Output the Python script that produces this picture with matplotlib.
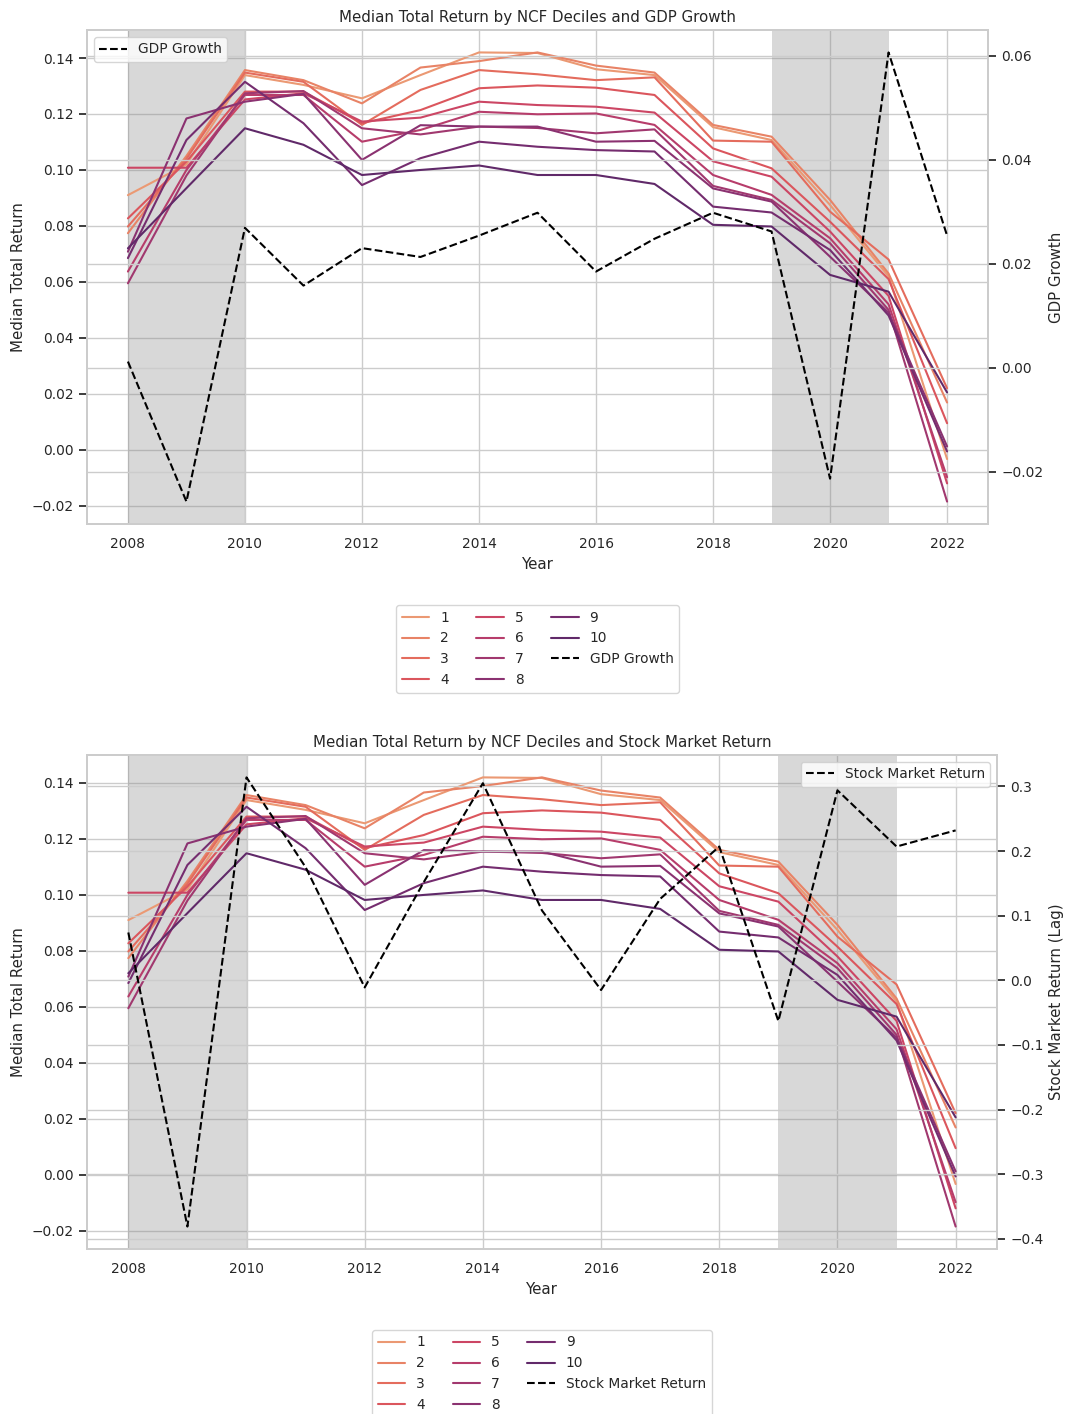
import matplotlib
matplotlib.use("Agg")
import matplotlib.pyplot as plt
import seaborn as sns
import numpy as np

years = list(range(2008, 2023))
deciles = [str(i) for i in range(1, 11)]

# median total return per NCF decile, 2008..2022
d1 = [0.091, 0.102, 0.1339, 0.1304, 0.1256, 0.1339, 0.1420, 0.1418, 0.1360, 0.1339, 0.1153, 0.1107, 0.0875, 0.062, -0.0033]
d2 = [0.0774, 0.105, 0.1357, 0.1321, 0.1238, 0.1366, 0.1389, 0.1420, 0.1373, 0.1348, 0.1161, 0.1119, 0.0893, 0.063, 0.0169]
d3 = [0.0798, 0.104, 0.1348, 0.1315, 0.1161, 0.1286, 0.1357, 0.1342, 0.1321, 0.1331, 0.1105, 0.1101, 0.0851, 0.068, 0.0220]
d4 = [0.0827, 0.103, 0.1280, 0.1280, 0.1167, 0.1214, 0.1292, 0.1302, 0.1294, 0.1268, 0.1077, 0.1006, 0.0815, 0.061, 0.0095]
d5 = [0.1008, 0.1008, 0.1252, 0.1274, 0.1173, 0.1187, 0.1244, 0.1232, 0.1226, 0.1205, 0.1031, 0.0976, 0.0780, 0.055, -0.0120]
d6 = [0.0637, 0.100, 0.1268, 0.1268, 0.1101, 0.1143, 0.1208, 0.1199, 0.1202, 0.1161, 0.0982, 0.0911, 0.0756, 0.052, -0.0098]
d7 = [0.0595, 0.098, 0.1274, 0.1282, 0.1149, 0.1127, 0.1155, 0.1150, 0.1131, 0.1145, 0.0943, 0.0893, 0.0738, 0.050, -0.0185]
d8 = [0.0708, 0.1184, 0.1244, 0.1272, 0.1036, 0.1160, 0.1155, 0.1155, 0.1101, 0.1104, 0.0934, 0.0887, 0.0690, 0.049, 0.0012]
d9 = [0.0685, 0.1107, 0.1315, 0.1167, 0.0946, 0.1042, 0.1101, 0.1083, 0.1071, 0.1066, 0.0869, 0.0848, 0.0714, 0.048, -0.0006]
d10 = [0.0720, 0.0935, 0.1149, 0.1090, 0.0982, 0.1000, 0.1016, 0.0982, 0.0982, 0.0950, 0.0804, 0.0798, 0.0625, 0.0565, 0.0205]
returns = [d1, d2, d3, d4, d5, d6, d7, d8, d9, d10]

gdp_growth = [0.0012, -0.0257, 0.0269, 0.0158, 0.0230, 0.0213, 0.0254, 0.0298, 0.0185, 0.0248, 0.0298, 0.0262, -0.0213, 0.0606, 0.0254]
stock_return = [0.074, -0.381, 0.314, 0.175, -0.011, 0.152, 0.305, 0.108, -0.015, 0.126, 0.207, -0.063, 0.294, 0.207, 0.232]

recessions = [(2008, 2010), (2019, 2021)]

sns.set_theme(style="whitegrid", font_scale=0.9)
colors = sns.color_palette("flare", len(deciles))

fig = plt.figure(figsize=(10.67, 14.14), dpi=100)


def draw_panel(rect, macro, macro_label, ylabel2, title, macro_loc):
    ax = fig.add_axes(rect)
    for (start, end) in recessions:
        ax.axvspan(start, end, color="grey", alpha=0.3, lw=0)
    for name, vals, c in zip(deciles, returns, colors):
        ax.plot(years, vals, color=c, lw=1.5, label=name)
    ax.set_xlabel("Year")
    ax.set_ylabel("Median Total Return")
    ax.set_title(title)

    ax2 = ax.twinx()
    ax2.plot(years, macro, color="black", ls="--", lw=1.5, label=macro_label)
    ax2.set_ylabel(ylabel2)
    ax2.legend(loc=macro_loc)

    # one legend below the plot with deciles and the macro line
    h1, l1 = ax.get_legend_handles_labels()
    h2, l2 = ax2.get_legend_handles_labels()
    ax.legend(h1 + h2, l1 + l2, loc="upper center", bbox_to_anchor=(0.5, -0.15), ncol=3)
    return ax, ax2


draw_panel([0.0815, 0.6294, 0.8445, 0.3494], gdp_growth, "GDP Growth", "GDP Growth",
           "Median Total Return by NCF Deciles and GDP Growth", "upper left")
draw_panel([0.0815, 0.1167, 0.8529, 0.3494], stock_return, "Stock Market Return", "Stock Market Return (Lag)",
           "Median Total Return by NCF Deciles and Stock Market Return", "upper right")

fig.savefig("out.png", dpi=100)
